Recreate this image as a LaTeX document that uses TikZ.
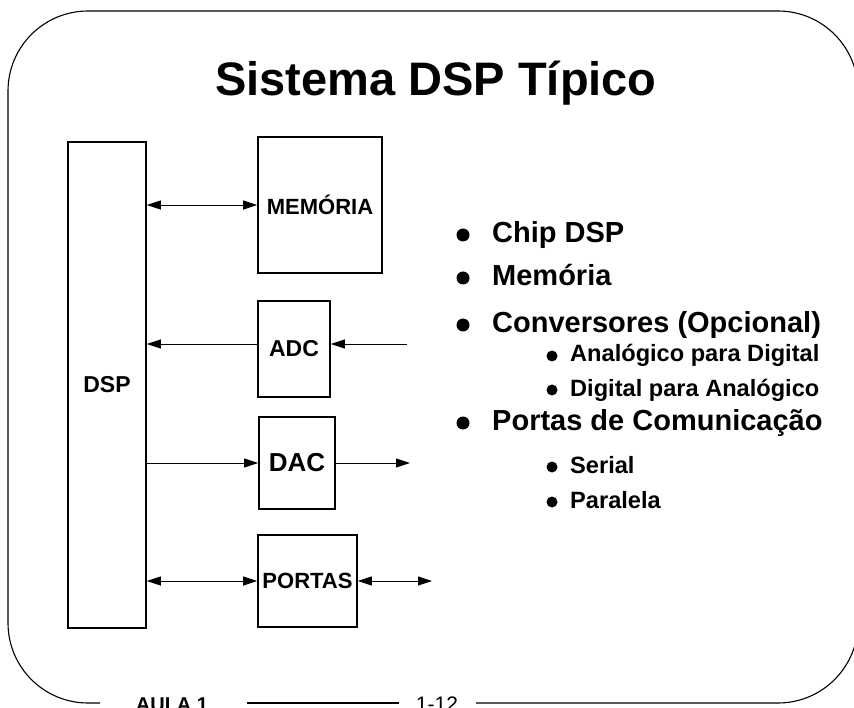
\documentclass[tikz,border=0pt]{standalone}
\usepackage{fontspec}
\setmainfont{Liberation Sans}
\usetikzlibrary{arrows.meta}
\tikzset{
  blk/.style={draw, line width=1.6pt, inner sep=0pt, font=\bfseries\fontsize{22}{24}\selectfont},
  conn/.style={line width=0.9pt, -{Triangle[length=14pt,width=9pt]}},
  dconn/.style={line width=0.9pt, {Triangle[length=14pt,width=9pt]}-{Triangle[length=14pt,width=9pt]}},
  frame/.style={line width=1.1pt},
  mainitem/.style={anchor=base west, inner sep=0pt, font=\bfseries\fontsize{29}{32}\selectfont},
  subitem/.style={anchor=base west, inner sep=0pt, font=\bfseries\fontsize{23.6}{26}\selectfont},
  bigdot/.style={fill=black, circle, inner sep=0pt, minimum size=13pt},
  smalldot/.style={fill=black, circle, inner sep=0pt, minimum size=11pt},
  foot/.style={anchor=base, inner sep=0pt, font=\fontsize{21}{24}\selectfont}
}
\begin{document}
\begin{tikzpicture}[x=1pt,y=-1pt]
\useasboundingbox (0,0) rectangle (854,708);
% frame
\draw[frame, rounded corners=80pt] (100,703) -- (8,703) -- (8,11) -- (858,11) -- (858,703) -- (476,703);
\draw[frame] (247,703) -- (399,703);
\node[foot, font=\bfseries\fontsize{20}{24}\selectfont] (aula) at (172,711) {AULA 1};
\node[foot] (pg) at (437,711) {1-12};
% title
\node[anchor=base, inner sep=0pt, font=\bfseries\fontsize{47}{50}\selectfont] (title) at (436,96) {Sistema DSP Típico};
% blocks
\node[blk, minimum width=78pt, minimum height=486pt, font=\bfseries\fontsize{23}{25}\selectfont] (dsp) at (107,385) {DSP};
\node[blk, minimum width=124pt, minimum height=136pt] (mem) at (320,205) {MEMÓRIA};
\node[blk, minimum width=72pt, minimum height=96pt, font=\bfseries\fontsize{23}{25}\selectfont] (adc) at (294,349) {ADC};
\node[blk, minimum width=76pt, minimum height=92pt, font=\bfseries\fontsize{26}{28}\selectfont] (dac) at (297,463) {DAC};
\node[blk, minimum width=99pt, minimum height=92pt] (portas) at (307.5,581) {PORTAS};
\coordinate (adcin) at (407,344);
\coordinate (dacout) at (410,463);
\coordinate (portout) at (432,581);
% connectors
\draw[dconn] (dsp.east |- mem.west) -- (mem.west);
\draw[conn] ([yshift=5pt]adc.west) -- ([yshift=5pt]adc.west -| dsp.east);
\draw[conn] (adcin) -- (adcin -| adc.east);
\draw[conn] (dsp.east |- dac.west) -- (dac.west);
\draw[conn] (dac.east) -- (dacout);
\draw[dconn] (dsp.east |- portas.west) -- (portas.west);
\draw[dconn] (portas.east) -- (portout);
% bullet list
\node[mainitem] (i1) at (492,243) {Chip DSP};
\node[mainitem] (i2) at (492,286) {Memória};
\node[mainitem] (i3) at (492,333) {Conversores (Opcional)};
\node[subitem] (s1) at (570,362) {Analógico para Digital};
\node[subitem] (s2) at (570,396) {Digital para Analógico};
\node[mainitem] (i4) at (492,431) {Portas de Comunicação};
\node[subitem] (s3) at (570,473) {Serial};
\node[subitem] (s4) at (570,508) {Paralela};
\node[bigdot] (b1) at (463,235) {};
\node[bigdot] (b2) at (463,278) {};
\node[bigdot] (b3) at (463,325) {};
\node[bigdot] (b4) at (463,423) {};
\node[smalldot] (d1) at (552,356) {};
\node[smalldot] (d2) at (552,390) {};
\node[smalldot] (d3) at (552,467) {};
\node[smalldot] (d4) at (552,502) {};
\end{tikzpicture}
\end{document}
